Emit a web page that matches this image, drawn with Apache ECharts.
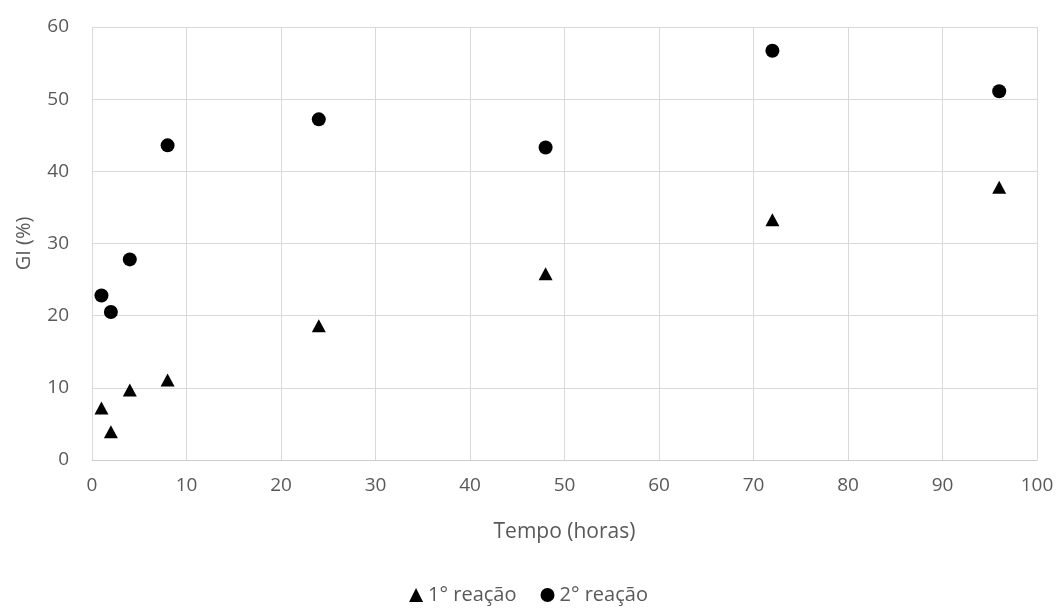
<!DOCTYPE html>
<html>
<head>
<meta charset="utf-8">
<script src="https://cdn.jsdelivr.net/npm/echarts@6/dist/echarts.min.js"></script>
<style>
  html, body { margin: 0; padding: 0; background: #ffffff; }
  #chart { width: 1057px; height: 610px; }
</style>
</head>
<body>
<div id="chart"></div>
<script>
// Tempo de reação (horas)
const tempo = [1, 2, 4, 8, 24, 48, 72, 96];
// GI (%) por reação
const reacao1 = [7.2, 3.9, 9.7, 11.1, 18.6, 25.8, 33.3, 37.8];
const reacao2 = [22.8, 20.5, 27.8, 43.6, 47.2, 43.3, 56.7, 51.1];
const seriesNames = ['1° reação', '2° reação'];

const pairs = (xs, ys) => xs.map((x, i) => [x, ys[i]]);

const chart = echarts.init(document.getElementById('chart'));
const labelColor = '#595959';
const fontFamily = '"Open Sans", "DejaVu Sans", sans-serif';

chart.setOption({
  backgroundColor: '#ffffff',
  animation: false,
  textStyle: { fontFamily: fontFamily },
  grid: { left: 92, right: 20, top: 27, bottom: 150, containLabel: false },
  legend: {
    bottom: 0,
    left: 'center',
    itemWidth: 14,
    itemHeight: 14,
    itemGap: 24,
    textStyle: { color: labelColor, fontSize: 20, fontFamily: fontFamily },
    data: [
      { name: seriesNames[0], icon: 'triangle' },
      { name: seriesNames[1], icon: 'circle' }
    ]
  },
  xAxis: {
    type: 'value',
    min: 0, max: 100, interval: 10,
    name: 'Tempo (horas)',
    nameLocation: 'middle',
    nameGap: 62,
    nameTextStyle: { color: labelColor, fontSize: 21 },
    axisLine: { show: true, lineStyle: { color: '#cccccc' } },
    axisTick: { show: false },
    axisLabel: { color: labelColor, fontSize: 19, margin: 16 },
    splitLine: { show: true, lineStyle: { color: '#d9d9d9', width: 1 } }
  },
  yAxis: {
    type: 'value',
    min: 0, max: 60, interval: 10,
    name: 'GI (%)',
    nameLocation: 'middle',
    nameGap: 58,
    nameTextStyle: { color: labelColor, fontSize: 20 },
    axisLine: { show: true, lineStyle: { color: '#d9d9d9' } },
    axisTick: { show: false },
    axisLabel: { color: labelColor, fontSize: 19, margin: 23 },
    splitLine: { show: true, lineStyle: { color: '#d9d9d9', width: 1 } }
  },
  series: [
    {
      name: seriesNames[0],
      type: 'scatter',
      symbol: 'triangle',
      symbolSize: [14, 13],
      itemStyle: { color: '#000000', opacity: 1 },
      data: pairs(tempo, reacao1)
    },
    {
      name: seriesNames[1],
      type: 'scatter',
      symbol: 'circle',
      symbolSize: 14,
      itemStyle: { color: '#000000', opacity: 1 },
      data: pairs(tempo, reacao2)
    }
  ]
});
</script>
</body>
</html>
